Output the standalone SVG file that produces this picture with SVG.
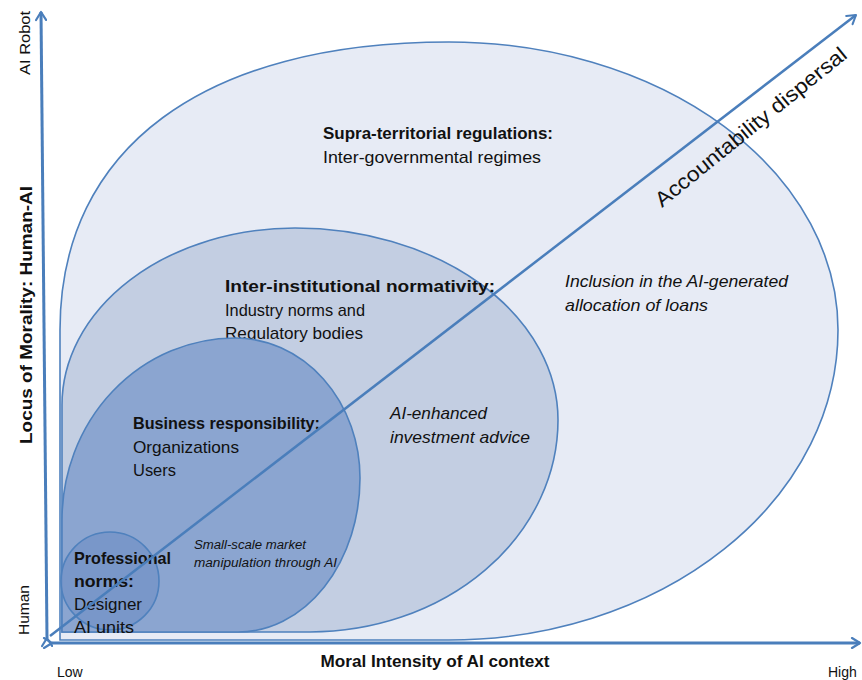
<svg xmlns="http://www.w3.org/2000/svg" width="862" height="680" viewBox="0 0 862 680">
<defs>
<marker id="arr" viewBox="0 0 12 12" refX="10" refY="6" markerWidth="4" markerHeight="4" orient="auto" markerUnits="strokeWidth">
<path d="M2,1 L10,6 L2,11" fill="none" stroke="#4a7ebb" stroke-width="2.2" stroke-linecap="round" stroke-linejoin="round"/>
</marker>
<marker id="arr2" viewBox="0 0 12 12" refX="10" refY="6" markerWidth="5" markerHeight="5" orient="auto" markerUnits="strokeWidth">
<path d="M2,1 L10,6 L2,11" fill="none" stroke="#4a7ebb" stroke-width="2" stroke-linecap="round" stroke-linejoin="round"/>
</marker>
</defs>
<style>
.shape{stroke:#4f81bd;stroke-width:1.6}
.t{font-family:"Liberation Sans",Arial,sans-serif;font-size:17px;fill:#111}
.b{font-weight:bold}
.i{font-style:italic}
.s{font-size:12.5px}
.ax{fill:none;stroke:#4a7ebb;stroke-width:3}
</style>
<rect width="862" height="680" fill="#ffffff"/>
<g id="supra">
<path class="shape" fill="#e7ebf5" d="M60,640 L60,330 C60,148 204,42 449,42 A389,288 0 0 1 838,330 A389,310 0 0 1 449,640 Z"/>
<text class="t b" x="323" y="139" textLength="230" lengthAdjust="spacingAndGlyphs">Supra-territorial regulations:</text>
<text class="t" x="323" y="163" textLength="218" lengthAdjust="spacingAndGlyphs">Inter-governmental regimes</text>
<text class="t i" x="565" y="287" textLength="223" lengthAdjust="spacingAndGlyphs">Inclusion in the AI-generated</text>
<text class="t i" x="565" y="311" textLength="143" lengthAdjust="spacingAndGlyphs">allocation of loans</text>
</g>
<g id="inter">
<path class="shape" fill="#c3cee2" d="M62,632 L62,405 A233,177 0 0 1 295,228 A263,192 0 0 1 558,420 A248,212 0 0 1 310,632 Z"/>
<text class="t b" x="225" y="292" textLength="270" lengthAdjust="spacingAndGlyphs">Inter-institutional normativity:</text>
<text class="t" x="225" y="316" textLength="140" lengthAdjust="spacingAndGlyphs">Industry norms and</text>
<text class="t" x="225" y="339" textLength="138" lengthAdjust="spacingAndGlyphs">Regulatory bodies</text>
<text class="t i" x="390" y="419" textLength="97" lengthAdjust="spacingAndGlyphs">AI-enhanced</text>
<text class="t i" x="390" y="443" textLength="140" lengthAdjust="spacingAndGlyphs">investment advice</text>
</g>
<g id="business">
<path class="shape" fill="#8ba5d0" d="M62,632 L62,520 A173,182 0 0 1 235,338 A125,140 0 0 1 360,478 A122,154 0 0 1 238,632 Z"/>
<text class="t b" x="133" y="429" textLength="187" lengthAdjust="spacingAndGlyphs">Business responsibility:</text>
<text class="t" x="133" y="453" textLength="106" lengthAdjust="spacingAndGlyphs">Organizations</text>
<text class="t" x="133" y="476" textLength="43" lengthAdjust="spacingAndGlyphs">Users</text>
<text class="t i s" x="194" y="549" textLength="112" lengthAdjust="spacingAndGlyphs">Small-scale market</text>
<text class="t i s" x="194" y="567" textLength="143" lengthAdjust="spacingAndGlyphs">manipulation through AI</text>
</g>
<g id="professional">
<circle class="shape" cx="110" cy="581" r="49" fill="#7594c8" fill-opacity="0.85"/>
<text class="t b" x="74" y="564" textLength="97" lengthAdjust="spacingAndGlyphs">Professional</text>
<text class="t b" x="74" y="587" textLength="60" lengthAdjust="spacingAndGlyphs">norms:</text>
<text class="t" x="74" y="610" textLength="68" lengthAdjust="spacingAndGlyphs">Designer</text>
<text class="t" x="74" y="633" textLength="60" lengthAdjust="spacingAndGlyphs">AI units</text>
</g>
<g id="connectors">
<line class="ax" x1="47" y1="638" x2="41" y2="12" marker-end="url(#arr)" marker-start="url(#arr)"/>
<line class="ax" x1="52" y1="643" x2="860" y2="643" marker-end="url(#arr)" marker-start="url(#arr)"/>
<line x1="50" y1="636" x2="856" y2="15" stroke="#4a7ebb" stroke-width="2.5" marker-end="url(#arr2)"/>
</g>
<g id="labels">
<text class="t" x="0" y="0" transform="translate(30,43) rotate(-90)" text-anchor="middle" style="font-size:14px" textLength="64" lengthAdjust="spacingAndGlyphs">AI Robot</text>
<text class="t" x="0" y="0" transform="translate(29,610) rotate(-90)" text-anchor="middle" style="font-size:15px" textLength="50" lengthAdjust="spacingAndGlyphs">Human</text>
<text class="t b" x="0" y="0" transform="translate(32,315) rotate(-90)" text-anchor="middle" style="font-size:17px" textLength="258" lengthAdjust="spacingAndGlyphs">Locus of Morality:  Human-AI</text>
<text class="t b" x="435" y="667" text-anchor="middle" style="font-size:17px" textLength="229" lengthAdjust="spacingAndGlyphs">Moral Intensity of AI context</text>
<text class="t" x="57" y="677" style="font-size:14px">Low</text>
<text class="t" x="828" y="677" style="font-size:14px">High</text>
<text class="t" x="0" y="0" transform="translate(662,208) rotate(-39)" style="font-size:21px" textLength="240" lengthAdjust="spacingAndGlyphs">Accountability dispersal</text>
</g>
</svg>
